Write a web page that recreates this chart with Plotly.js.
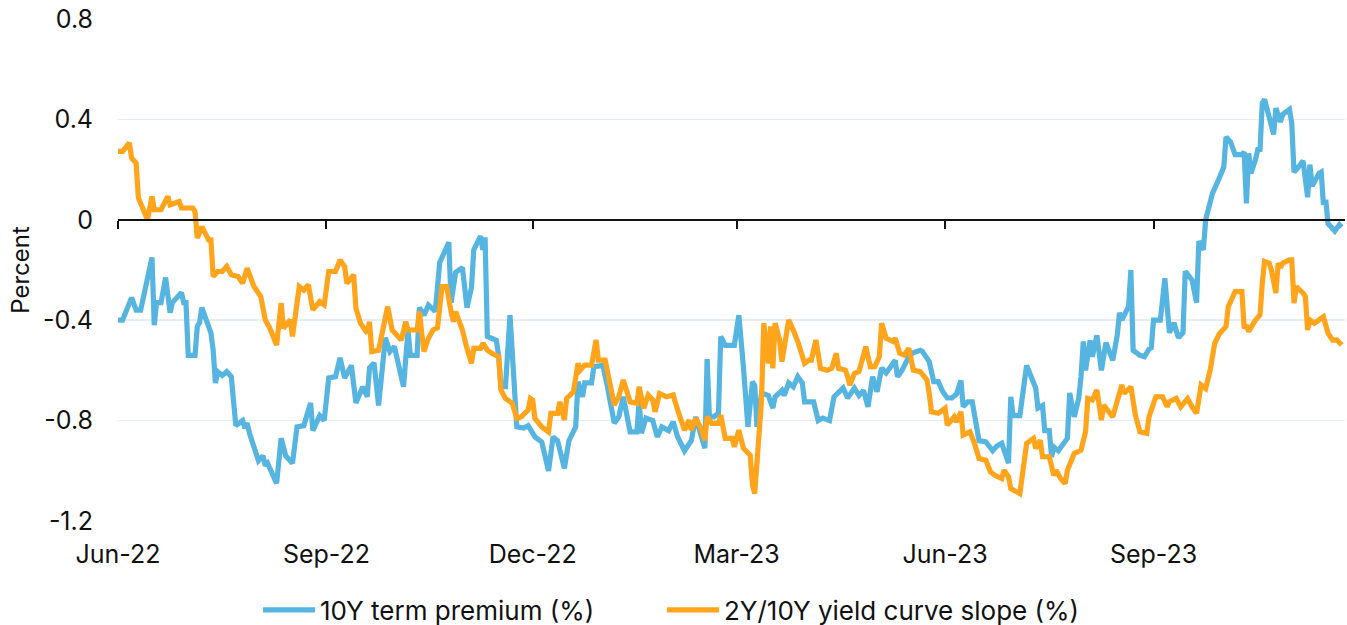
<!DOCTYPE html>
<html>
<head>
<meta charset="utf-8">
<script src="https://cdn.plot.ly/plotly-3.0.1.min.js"></script>
<style>
html,body{margin:0;padding:0;background:#fff;}
#chart{width:1347px;height:625px;}
</style>
</head>
<body>
<div id="chart"></div>
<script>
// 10Y term premium (%)
const termDates = [
'2022-06-01','2022-06-03','2022-06-07','2022-06-09','2022-06-11','2022-06-13','2022-06-16','2022-06-17','2022-06-18','2022-06-20',
'2022-06-22','2022-06-24','2022-06-25','2022-06-29','2022-06-30','2022-07-01','2022-07-02','2022-07-05','2022-07-06','2022-07-07',
'2022-07-08','2022-07-12','2022-07-13','2022-07-14','2022-07-15','2022-07-17','2022-07-19','2022-07-21','2022-07-23','2022-07-26',
'2022-07-27','2022-07-28','2022-07-29','2022-08-02','2022-08-04','2022-08-05','2022-08-06','2022-08-10','2022-08-12','2022-08-14',
'2022-08-17','2022-08-19','2022-08-22','2022-08-25','2022-08-26','2022-08-29','2022-08-31','2022-09-02','2022-09-05','2022-09-07',
'2022-09-09','2022-09-12','2022-09-14','2022-09-17','2022-09-19','2022-09-20','2022-09-22','2022-09-24','2022-09-27','2022-09-29',
'2022-10-01','2022-10-05','2022-10-07','2022-10-08','2022-10-11','2022-10-12','2022-10-14','2022-10-16','2022-10-19','2022-10-21',
'2022-10-25','2022-10-26','2022-10-28','2022-10-31','2022-11-02','2022-11-04','2022-11-05','2022-11-08','2022-11-09','2022-11-10',
'2022-11-11','2022-11-15','2022-11-16','2022-11-17','2022-11-19','2022-11-21','2022-11-24','2022-11-27','2022-11-29','2022-12-02',
'2022-12-05','2022-12-08','2022-12-10','2022-12-12','2022-12-15','2022-12-17','2022-12-20','2022-12-21','2022-12-23','2022-12-24',
'2022-12-27','2022-12-28','2023-01-01','2023-01-03','2023-01-06','2023-01-08','2023-01-10','2023-01-13','2023-01-16','2023-01-17',
'2023-01-18','2023-01-20','2023-01-23','2023-01-25','2023-01-27','2023-01-30','2023-02-01','2023-02-03','2023-02-06','2023-02-09',
'2023-02-11','2023-02-13','2023-02-15','2023-02-16','2023-02-17','2023-02-19','2023-02-21','2023-02-22','2023-02-24','2023-02-28',
'2023-03-02','2023-03-04','2023-03-06','2023-03-08','2023-03-09','2023-03-10','2023-03-12','2023-03-15','2023-03-17','2023-03-18',
'2023-03-21','2023-03-22','2023-03-24','2023-03-26','2023-03-28','2023-03-30','2023-03-31','2023-04-04','2023-04-06','2023-04-08',
'2023-04-11','2023-04-13','2023-04-15','2023-04-17','2023-04-19','2023-04-22','2023-04-24','2023-04-26','2023-04-28','2023-04-30',
'2023-05-02','2023-05-04','2023-05-06','2023-05-08','2023-05-10','2023-05-11','2023-05-13','2023-05-16','2023-05-18','2023-05-21',
'2023-05-22','2023-05-25','2023-05-27','2023-05-29','2023-05-31','2023-06-02','2023-06-04','2023-06-06','2023-06-08','2023-06-09',
'2023-06-11','2023-06-13','2023-06-15','2023-06-16','2023-06-19','2023-06-22','2023-06-24','2023-06-26','2023-06-29','2023-06-30',
'2023-07-01','2023-07-04','2023-07-07','2023-07-11','2023-07-12','2023-07-14','2023-07-15','2023-07-17','2023-07-18','2023-07-19',
'2023-07-21','2023-07-23','2023-07-25','2023-07-26','2023-07-28','2023-07-30','2023-07-31','2023-08-01','2023-08-02','2023-08-04',
'2023-08-05','2023-08-07','2023-08-09','2023-08-11','2023-08-14','2023-08-16','2023-08-17','2023-08-18','2023-08-21','2023-08-22',
'2023-08-23','2023-08-26','2023-08-28','2023-08-30','2023-08-31','2023-09-01','2023-09-04','2023-09-06','2023-09-08','2023-09-10',
'2023-09-12','2023-09-14','2023-09-15','2023-09-18','2023-09-20','2023-09-21','2023-09-23','2023-09-24','2023-09-26','2023-09-27',
'2023-09-29','2023-10-02','2023-10-03','2023-10-05','2023-10-07','2023-10-10','2023-10-11','2023-10-12','2023-10-13','2023-10-14',
'2023-10-16','2023-10-17','2023-10-18','2023-10-19','2023-10-20','2023-10-22','2023-10-24','2023-10-25','2023-10-27','2023-10-28',
'2023-10-31','2023-11-01','2023-11-02','2023-11-04','2023-11-06','2023-11-08','2023-11-09','2023-11-10','2023-11-13','2023-11-14',
'2023-11-15','2023-11-16','2023-11-17','2023-11-20','2023-11-22','2023-11-23'
];
const termPremium = [
-0.40,-0.40,-0.31,-0.36,-0.36,-0.27,-0.15,-0.42,-0.33,-0.33,
-0.23,-0.37,-0.33,-0.29,-0.33,-0.33,-0.54,-0.54,-0.425,-0.41,
-0.35,-0.45,-0.52,-0.65,-0.605,-0.62,-0.605,-0.625,-0.82,-0.80,
-0.83,-0.81,-0.85,-0.96,-0.94,-0.98,-0.97,-1.05,-0.87,-0.94,
-0.97,-0.825,-0.82,-0.73,-0.84,-0.78,-0.80,-0.63,-0.625,-0.55,
-0.63,-0.58,-0.73,-0.665,-0.705,-0.59,-0.57,-0.74,-0.47,-0.525,
-0.505,-0.665,-0.44,-0.54,-0.54,-0.35,-0.38,-0.34,-0.365,-0.17,
-0.09,-0.33,-0.21,-0.19,-0.35,-0.27,-0.12,-0.065,-0.12,-0.07,
-0.465,-0.48,-0.545,-0.665,-0.665,-0.38,-0.825,-0.83,-0.82,-0.865,
-0.885,-1.00,-0.865,-0.88,-0.99,-0.88,-0.825,-0.645,-0.705,-0.65,
-0.65,-0.585,-0.58,-0.665,-0.81,-0.785,-0.705,-0.845,-0.845,-0.72,
-0.85,-0.79,-0.80,-0.865,-0.825,-0.84,-0.805,-0.865,-0.92,-0.88,
-0.785,-0.85,-0.91,-0.555,-0.785,-0.785,-0.77,-0.465,-0.50,-0.50,
-0.38,-0.585,-0.825,-0.645,-0.66,-0.825,-0.69,-0.70,-0.75,-0.705,
-0.68,-0.70,-0.65,-0.665,-0.625,-0.65,-0.725,-0.725,-0.80,-0.79,
-0.80,-0.705,-0.69,-0.67,-0.71,-0.67,-0.70,-0.68,-0.745,-0.625,
-0.685,-0.59,-0.61,-0.585,-0.56,-0.625,-0.60,-0.545,-0.53,-0.52,
-0.525,-0.565,-0.645,-0.645,-0.685,-0.71,-0.71,-0.695,-0.64,-0.745,
-0.725,-0.725,-0.825,-0.88,-0.885,-0.92,-0.90,-0.89,-0.97,-0.705,
-0.78,-0.78,-0.58,-0.67,-0.75,-0.74,-0.84,-0.84,-0.945,-0.905,
-0.92,-0.89,-0.87,-0.69,-0.785,-0.71,-0.625,-0.485,-0.60,-0.48,
-0.545,-0.46,-0.60,-0.49,-0.56,-0.46,-0.37,-0.40,-0.345,-0.20,
-0.52,-0.54,-0.545,-0.515,-0.51,-0.40,-0.40,-0.233,-0.45,-0.41,
-0.47,-0.45,-0.205,-0.24,-0.33,-0.085,-0.12,0.0,0.065,0.105,
0.145,0.21,0.33,0.31,0.26,0.26,0.27,0.065,0.265,0.185,
0.24,0.28,0.28,0.465,0.48,0.41,0.34,0.445,0.39,0.42,
0.44,0.385,0.19,0.21,0.235,0.09,0.22,0.135,0.185,0.19,
0.06,0.08,-0.015,-0.045,-0.02,-0.03
];

// 2Y/10Y yield curve slope (%)
const slopeDates = [
'2022-06-01','2022-06-03','2022-06-06','2022-06-07','2022-06-09','2022-06-10','2022-06-14','2022-06-16','2022-06-17','2022-06-20',
'2022-06-23','2022-06-24','2022-06-28','2022-06-29','2022-07-04','2022-07-05','2022-07-06','2022-07-08','2022-07-11','2022-07-12',
'2022-07-13','2022-07-15','2022-07-17','2022-07-19','2022-07-21','2022-07-24','2022-07-26','2022-07-28','2022-07-31','2022-08-03',
'2022-08-05','2022-08-07','2022-08-10','2022-08-12','2022-08-13','2022-08-16','2022-08-17','2022-08-19','2022-08-20','2022-08-22',
'2022-08-24','2022-08-26','2022-08-29','2022-08-31','2022-09-02','2022-09-05','2022-09-07','2022-09-09','2022-09-10','2022-09-13',
'2022-09-14','2022-09-16','2022-09-19','2022-09-20','2022-09-21','2022-09-24','2022-09-26','2022-09-28','2022-09-30','2022-10-04',
'2022-10-06','2022-10-07','2022-10-11','2022-10-12','2022-10-14','2022-10-16','2022-10-18','2022-10-20','2022-10-22','2022-10-24',
'2022-10-26','2022-10-27','2022-10-28','2022-10-30','2022-10-31','2022-11-02','2022-11-04','2022-11-05','2022-11-08','2022-11-09',
'2022-11-11','2022-11-13','2022-11-16','2022-11-17','2022-11-19','2022-11-22','2022-11-24','2022-11-26','2022-11-29','2022-11-30',
'2022-12-01','2022-12-02','2022-12-05','2022-12-08','2022-12-09','2022-12-12','2022-12-13','2022-12-15','2022-12-16','2022-12-19',
'2022-12-21','2022-12-22','2022-12-24','2022-12-27','2022-12-29','2022-12-30','2023-01-02','2023-01-05','2023-01-06','2023-01-08',
'2023-01-10','2023-01-13','2023-01-16','2023-01-17','2023-01-19','2023-01-21','2023-01-23','2023-01-24','2023-01-26','2023-01-29',
'2023-02-01','2023-02-03','2023-02-05','2023-02-06','2023-02-08','2023-02-09','2023-02-11','2023-02-13','2023-02-15','2023-02-16',
'2023-02-18','2023-02-21','2023-02-22','2023-02-24','2023-02-27','2023-02-28','2023-03-02','2023-03-04','2023-03-07','2023-03-08',
'2023-03-09','2023-03-10','2023-03-12','2023-03-13','2023-03-15','2023-03-16','2023-03-17','2023-03-18','2023-03-20','2023-03-21',
'2023-03-24','2023-03-26','2023-03-28','2023-03-31','2023-04-02','2023-04-03','2023-04-05','2023-04-07','2023-04-10','2023-04-12',
'2023-04-14','2023-04-15','2023-04-18','2023-04-19','2023-04-20','2023-04-22','2023-04-24','2023-04-27','2023-04-29','2023-05-01',
'2023-05-03','2023-05-04','2023-05-06','2023-05-09','2023-05-10','2023-05-12','2023-05-14','2023-05-16','2023-05-18','2023-05-21',
'2023-05-24','2023-05-25','2023-05-26','2023-05-29','2023-06-01','2023-06-02','2023-06-05','2023-06-06','2023-06-08','2023-06-09',
'2023-06-12','2023-06-14','2023-06-16','2023-06-19','2023-06-21','2023-06-23','2023-06-26','2023-06-27','2023-06-29','2023-06-30',
'2023-07-04','2023-07-07','2023-07-10','2023-07-11','2023-07-13','2023-07-14','2023-07-17','2023-07-19','2023-07-20','2023-07-22',
'2023-07-24','2023-07-25','2023-07-28','2023-07-31','2023-08-02','2023-08-03','2023-08-05','2023-08-07','2023-08-09','2023-08-10',
'2023-08-14','2023-08-18','2023-08-19','2023-08-22','2023-08-24','2023-08-26','2023-08-29','2023-08-30','2023-08-31','2023-09-02',
'2023-09-05','2023-09-07','2023-09-08','2023-09-11','2023-09-13','2023-09-16','2023-09-18','2023-09-20','2023-09-22','2023-09-24',
'2023-09-26','2023-09-28','2023-09-30','2023-10-03','2023-10-04','2023-10-07','2023-10-10','2023-10-11','2023-10-12','2023-10-13',
'2023-10-16','2023-10-18','2023-10-19','2023-10-20','2023-10-22','2023-10-23','2023-10-25','2023-10-26','2023-10-27','2023-10-28',
'2023-10-31','2023-11-01','2023-11-02','2023-11-03','2023-11-06','2023-11-07','2023-11-08','2023-11-09','2023-11-11','2023-11-15',
'2023-11-17','2023-11-19','2023-11-21','2023-11-23'
];
const curveSlope = [
0.273,0.273,0.306,0.246,0.226,0.087,0.0,0.093,0.04,0.04,
0.093,0.06,0.073,0.047,0.047,0.033,-0.073,-0.027,-0.08,-0.08,
-0.226,-0.206,-0.206,-0.186,-0.219,-0.226,-0.253,-0.193,-0.266,-0.306,
-0.399,-0.432,-0.499,-0.332,-0.432,-0.399,-0.465,-0.346,-0.266,-0.28,
-0.259,-0.359,-0.326,-0.339,-0.206,-0.206,-0.16,-0.186,-0.253,-0.219,
-0.352,-0.412,-0.452,-0.406,-0.525,-0.52,-0.439,-0.346,-0.439,-0.479,
-0.406,-0.439,-0.439,-0.366,-0.525,-0.472,-0.439,-0.43,-0.266,-0.266,
-0.366,-0.406,-0.366,-0.412,-0.439,-0.512,-0.572,-0.512,-0.512,-0.492,
-0.519,-0.532,-0.545,-0.678,-0.712,-0.731,-0.791,-0.785,-0.758,-0.712,
-0.718,-0.791,-0.825,-0.845,-0.771,-0.771,-0.725,-0.798,-0.712,-0.685,
-0.572,-0.599,-0.579,-0.579,-0.479,-0.559,-0.559,-0.692,-0.738,-0.705,
-0.638,-0.725,-0.731,-0.665,-0.751,-0.698,-0.718,-0.765,-0.692,-0.705,
-0.698,-0.758,-0.811,-0.838,-0.798,-0.838,-0.791,-0.825,-0.878,-0.785,
-0.811,-0.811,-0.778,-0.871,-0.871,-0.904,-0.838,-0.91,-0.938,-1.057,
-1.091,-0.958,-0.718,-0.412,-0.572,-0.425,-0.592,-0.412,-0.479,-0.565,
-0.399,-0.439,-0.485,-0.572,-0.559,-0.559,-0.479,-0.592,-0.599,-0.592,
-0.532,-0.592,-0.599,-0.625,-0.658,-0.612,-0.605,-0.505,-0.585,-0.585,
-0.545,-0.412,-0.472,-0.485,-0.472,-0.532,-0.539,-0.512,-0.599,-0.605,
-0.638,-0.692,-0.765,-0.771,-0.751,-0.818,-0.785,-0.805,-0.765,-0.858,
-0.845,-0.891,-0.951,-0.958,-1.004,-1.018,-1.031,-0.998,-1.024,-1.071,
-1.091,-0.891,-0.871,-0.911,-0.878,-0.944,-0.944,-1.018,-0.998,-1.031,
-1.051,-0.998,-0.931,-0.918,-0.845,-0.712,-0.718,-0.678,-0.798,-0.738,
-0.785,-0.658,-0.692,-0.665,-0.778,-0.845,-0.851,-0.785,-0.758,-0.705,
-0.705,-0.745,-0.725,-0.712,-0.745,-0.712,-0.745,-0.771,-0.658,-0.672,
-0.599,-0.492,-0.455,-0.425,-0.346,-0.286,-0.286,-0.432,-0.42,-0.445,
-0.399,-0.379,-0.253,-0.166,-0.173,-0.2,-0.292,-0.173,-0.19,-0.173,
-0.16,-0.16,-0.332,-0.266,-0.292,-0.305,-0.439,-0.399,-0.412,-0.386,
-0.452,-0.479,-0.479,-0.499
];

const seriesNames = ['10Y term premium (%)', '2Y/10Y yield curve slope (%)'];
const seriesColors = ['#55b5e0', '#ffa41b'];
const xRange = ['2022-06-01', '2023-11-24 12:00'];
const yTickVals = [-1.2, -0.8, -0.4, 0, 0.4, 0.8];
const yTickText = ['-1.2', '-0.8', '-0.4', '0', '0.4', '0.8'];

const FONT = 'Inter, "Noto Sans", "DejaVu Sans", sans-serif';
const TXT = '#111111';

const traces = [
  {x: termDates, y: termPremium, name: seriesNames[0], type: 'scatter', mode: 'lines',
   xaxis: 'x', yaxis: 'y', legend: 'legend',
   line: {color: seriesColors[0], width: 5.2, shape: 'linear'}, hoverinfo: 'x+y'},
  {x: slopeDates, y: curveSlope, name: seriesNames[1], type: 'scatter', mode: 'lines',
   xaxis: 'x2', yaxis: 'y', legend: 'legend2',
   line: {color: seriesColors[1], width: 5.2, shape: 'linear'}, hoverinfo: 'x+y'}
];

const legendCommon = {
  orientation: 'h', xref: 'container', yref: 'container',
  xanchor: 'left', y: 0.024, yanchor: 'middle',
  font: {family: FONT, size: 26, color: TXT},
  itemwidth: 52, bgcolor: 'rgba(0,0,0,0)'
};

const layout = {
  width: 1347, height: 625,
  margin: {l: 118, r: 2, t: 19, b: 104},
  paper_bgcolor: '#ffffff', plot_bgcolor: '#ffffff',
  font: {family: FONT, size: 26, color: TXT},
  showlegend: true,
  legend: Object.assign({}, legendCommon, {x: 258 / 1347}),
  legend2: Object.assign({}, legendCommon, {x: 662 / 1347}),
  xaxis: {
    type: 'date', range: xRange, domain: [0, 1],
    tickformat: '%b-%y', dtick: 'M3', tick0: '2022-06-01',
    showgrid: false, zeroline: false, showline: false, ticks: '',
    ticklabelstandoff: 16,
    tickfont: {family: FONT, size: 25, color: TXT}
  },
  xaxis2: {
    type: 'date', range: xRange, overlaying: 'x', anchor: 'free', position: 0.6,
    side: 'bottom', dtick: 'M3', tick0: '2022-06-01',
    showticklabels: false, showgrid: false, zeroline: false,
    showline: true, linecolor: TXT, linewidth: 2,
    ticks: 'outside', ticklen: 8, tickwidth: 2, tickcolor: TXT
  },
  yaxis: {
    range: [-1.2, 0.8], tickvals: yTickVals, ticktext: yTickText,
    showgrid: true, gridcolor: '#e7ecf1', gridwidth: 1.5,
    zeroline: false, showline: false, ticks: '',
    ticklabelstandoff: 24,
    tickfont: {family: FONT, size: 25, color: TXT},
    title: {text: 'Percent', standoff: 6, font: {family: FONT, size: 24, color: TXT}}
  }
};

Plotly.newPlot('chart', traces, layout, {displayModeBar: false, staticPlot: true});
</script>
</body>
</html>
